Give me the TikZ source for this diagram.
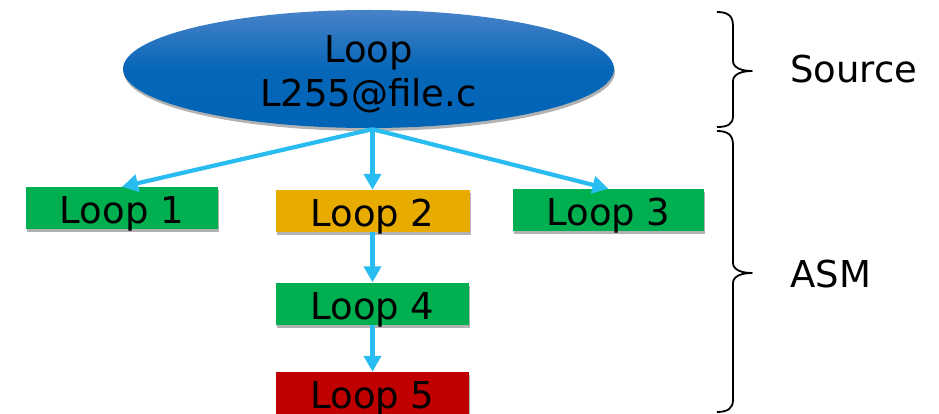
\documentclass[tikz,border=0pt]{standalone}
\usepackage{fontspec}
\setmainfont{DejaVu Sans}
\usetikzlibrary{arrows.meta,shapes.geometric,shadows}

\definecolor{loopgreen}{RGB}{0,176,80}
\definecolor{loopgold}{RGB}{232,172,0}
\definecolor{loopred}{RGB}{192,0,0}
\definecolor{linkblue}{RGB}{40,188,240}
\definecolor{srctop}{RGB}{72,130,200}
\definecolor{srcbottom}{RGB}{0,100,182}

\tikzset{
  bigtext/.style={font=\fontsize{37}{44.5}\selectfont},
  softshadow/.style={drop shadow={shadow xshift=1pt,shadow yshift=-3pt,opacity=0.3,fill=black}},
  loopbox/.style={rectangle,bigtext,inner sep=0pt,minimum width=193pt,minimum height=42pt,
    text height=31pt,text depth=0pt,softshadow},
  link/.style={draw=linkblue,line width=4.2pt,-{Triangle[length=16pt,width=17pt]}},
  bracepath/.style={draw=black,line width=1.8pt,line join=round},
}

\begin{document}
\begin{tikzpicture}[x=1pt,y=-1pt]
  \useasboundingbox (0,0) rectangle (939,414);

  % source-level loop (text box measured from its last baseline)
  \node[ellipse,bigtext,align=center,inner sep=0pt,minimum width=491pt,minimum height=118pt,
        text height=76pt,text depth=0pt,top color=srctop,bottom color=srcbottom,
        middle color=srcbottom!92!srctop,softshadow]
    (src) at (368.5,69) {Loop\\L255@file.c};

  % loops found in the assembly
  \node[loopbox,fill=loopgreen,minimum width=192pt] (l1) at (122,208) {Loop 1};
  \node[loopbox,fill=loopgold,minimum width=194pt]  (l2) at (372.5,211) {Loop 2};
  \node[loopbox,fill=loopgreen,minimum width=191pt] (l3) at (608.5,210) {Loop 3};
  \node[loopbox,fill=loopgreen] (l4) at (372.5,303.5) {Loop 4};
  \node[loopbox,fill=loopred]   (l5) at (372.5,393) {Loop 5};

  % connectors
  \coordinate (fork) at ([xshift=4pt,yshift=-1pt]src.south);
  \draw[link] (fork) -- (l1.north);
  \draw[link] (fork) -- (l2.north);
  \draw[link] (fork) -- (l3.north);
  \draw[link] (l2.south) -- (l4.north);
  \draw[link] (l4.south) -- (l5.north);

  % brace for the source level
  \path[bracepath] (717,12) .. controls (728,12) and (733,16) .. (733,26)
    -- (733,61) .. controls (733,68) and (742,71) .. (752,71)
    .. controls (742,71) and (733,74) .. (733,81)
    -- (733,116) .. controls (733,124) and (728,127) .. (717,127);

  % brace for the assembly level
  \path[bracepath] (717,131) .. controls (728,131) and (733,135) .. (733,145)
    -- (733,263) .. controls (733,270) and (742,273) .. (752,273)
    .. controls (742,273) and (733,276) .. (733,283)
    -- (733,400) .. controls (733,408) and (728,412) .. (717,412);

  \node[bigtext,anchor=base west,inner sep=0pt] (srclabel) at (790,83) {Source};
  \node[bigtext,anchor=base west,inner sep=0pt] (asmlabel) at (790,287) {ASM};
\end{tikzpicture}
\end{document}
